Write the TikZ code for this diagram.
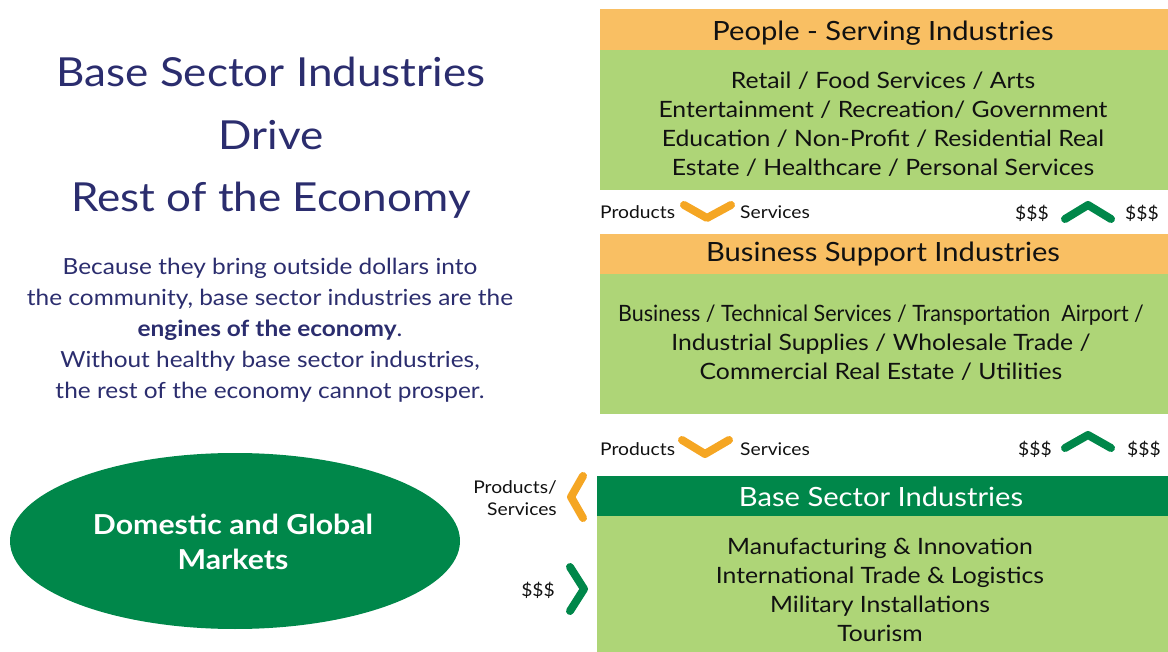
\documentclass[tikz,border=0pt]{standalone}
\usepackage{fontspec}
\usepackage{graphicx}
\setmainfont{Lato}[FakeStretch=1.1]
\usetikzlibrary{shapes.geometric}
\definecolor{hdrorange}{HTML}{F9BF63}
\definecolor{lightgreen}{HTML}{AED577}
\definecolor{darkgreen}{HTML}{00874A}
\definecolor{chevorange}{HTML}{F5A623}
\definecolor{navy}{HTML}{2B2D6E}
\definecolor{txt}{HTML}{111111}
\tikzset{
  hdr/.style={fill=hdrorange,draw=none},
  body/.style={fill=lightgreen,draw=none},
  boxtext/.style={text=txt,align=center,font=\fontsize{22.5}{29}\selectfont},
  hdrtext/.style={text=txt,font=\fontsize{26.5}{30}\selectfont},
  small/.style={text=txt,font=\fontsize{17.5}{22}\selectfont,inner sep=0pt},
  chevo/.style={draw=chevorange,line width=8pt,line cap=round,line join=round},
  chevg/.style={draw=darkgreen,line width=8pt,line cap=round,line join=round},
}
\begin{document}
\begin{tikzpicture}[x=1pt,y=-1pt]
\useasboundingbox (0,0) rectangle (1168,652);
% left title
\node[text=navy,align=center,font=\fontsize{40}{62.5}\selectfont] (title) at (271,138)
  {Base Sector Industries\\Drive\\Rest of the Economy};
\node[text=navy,align=center,font=\fontsize{22.2}{31}\selectfont] (para) at (270,330)
  {Because they bring outside dollars into\\the community, base sector industries are the\\\textbf{engines of the economy}.\\Without healthy base sector industries,\\the rest of the economy cannot prosper.};
% ellipse
\node[ellipse,fill=darkgreen,minimum width=450pt,minimum height=176pt,inner sep=0pt] (mkt) at (235,541) {};
\node[text=white,align=center,font=\bfseries\fontsize{27.5}{35}\selectfont] (mkttext) at (233,542) {Domestic and Global\\Markets};
% People-serving
\fill[hdr] (600,9) rectangle (1168,50);
\node[hdrtext] (h1) at (883,33) {People - Serving Industries};
\fill[body] (600,50) rectangle (1168,190);
\node[boxtext] (b1) at (883,124) {Retail / Food Services / Arts\\Entertainment / Recreation/ Government\\Education / Non-Profit / Residential Real\\Estate / Healthcare / Personal Services};
% Business support
\fill[hdr] (600,234) rectangle (1168,274);
\node[boxtext,font=\fontsize{26.5}{30}\selectfont] (h2) at (883,254) {Business Support Industries};
\fill[body] (600,274) rectangle (1168,414);
\node[boxtext] (b2) at (881,343) {\scalebox{0.87}[1]{Business / Technical Services / Transportation\ \ Airport /}\\Industrial Supplies / Wholesale Trade /\\Commercial Real Estate / Utilities};
% Base sector
\fill[darkgreen] (597,476) rectangle (1168,516);
\node[hdrtext,text=white] (h3) at (881,497) {Base Sector Industries};
\fill[body] (597,516) rectangle (1168,652);
\node[boxtext] (b3) at (880,590) {Manufacturing \& Innovation\\International Trade \& Logistics\\Military Installations\\Tourism};
% row 1 flow labels
\node[small,anchor=west] (p1) at (600,212) {Products};
\node[small,anchor=west] (s1) at (740,212) {Services};
\draw[chevo] (684,205) -- (707,218) -- (731,205);
\node[small,anchor=west] (d1a) at (1015,213) {\$\$\$};
\node[small,anchor=west] (d1b) at (1125,213) {\$\$\$};
\draw[chevg] (1065,219) -- (1088,205) -- (1111,219);
% row 2 flow labels
\node[small,anchor=west] (p2) at (600,449) {Products};
\node[small,anchor=west] (s2) at (740,449) {Services};
\draw[chevo] (682,440) -- (705,454) -- (729,440);
\node[small,anchor=west] (d2a) at (1018,449) {\$\$\$};
\node[small,anchor=west] (d2b) at (1127,449) {\$\$\$};
\draw[chevg] (1065,448) -- (1088,435) -- (1111,448);
% left flow labels
\node[small,align=right,anchor=east] (ps) at (557,498) {Products/\\Services};
\draw[chevo] (583,476) -- (571,497) -- (583,518);
\node[small,anchor=east] (d3) at (555,590) {\$\$\$};
\draw[chevg] (570,567) -- (584,589) -- (570,611);
\end{tikzpicture}
\end{document}
